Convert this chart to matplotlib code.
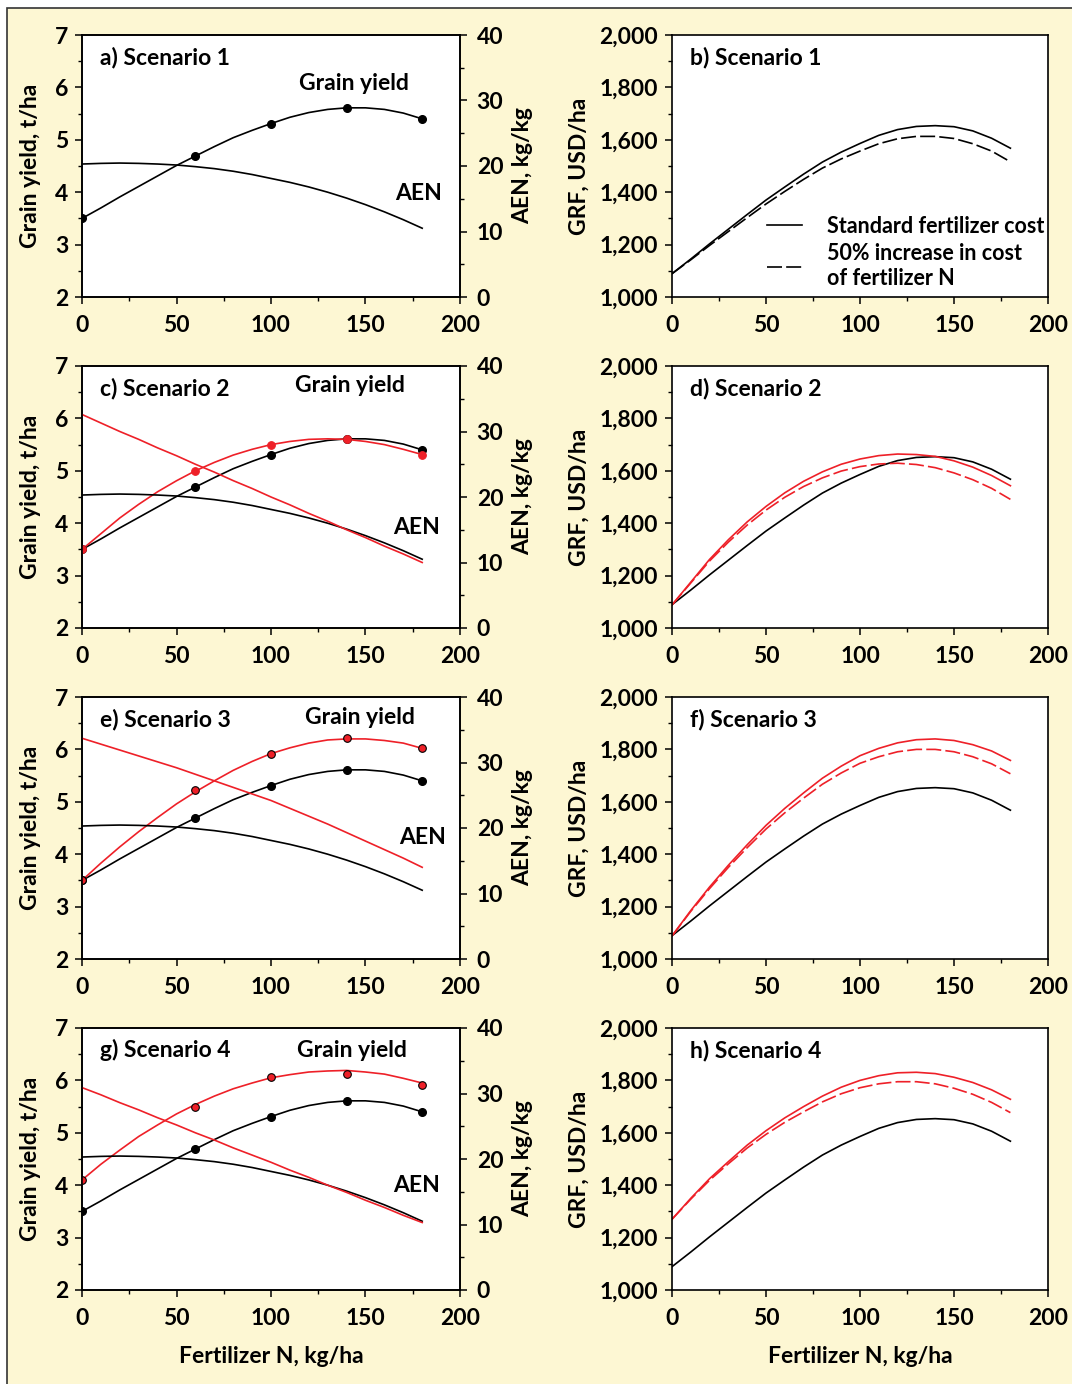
import matplotlib
matplotlib.use("Agg")
import matplotlib.pyplot as plt
from matplotlib.patches import Rectangle
from matplotlib.lines import Line2D
from matplotlib.ticker import MultipleLocator, StrMethodFormatter

# fertilizer N rates (kg/ha): measured points and fitted-curve grid
n_obs = [0, 60, 100, 140, 180]
n_fit = [0, 10, 20, 30, 40, 50, 60, 70, 80, 90, 100, 110, 120, 130, 140, 150, 160, 170, 180]

# scenario 1 (baseline, black in every panel)
yield_obs_s1 = [3.5, 4.7, 5.3, 5.6, 5.4]
yield_fit_s1 = [3.50, 3.70, 3.91, 4.11, 4.31, 4.51, 4.69, 4.87, 5.04, 5.18, 5.31, 5.43, 5.52, 5.58, 5.61, 5.61, 5.58, 5.51, 5.40]
aen_s1 = [20.3, 20.4, 20.45, 20.4, 20.3, 20.15, 19.9, 19.6, 19.2, 18.7, 18.1, 17.5, 16.8, 16.0, 15.1, 14.1, 13.0, 11.8, 10.5]
grf_s1 = [1089, 1145, 1203, 1259, 1315, 1370, 1420, 1469, 1515, 1553, 1586, 1617, 1639, 1651, 1654, 1650, 1634, 1606, 1568]
grf_s1_hi = [1089, 1142, 1197, 1250, 1303, 1355, 1403, 1449, 1492, 1527, 1557, 1585, 1604, 1613, 1613, 1605, 1585, 1557, 1516]

# scenario 2
yield_obs_s2 = [3.5, 5.0, 5.5, 5.6, 5.3]
yield_fit_s2 = [3.50, 3.80, 4.10, 4.36, 4.60, 4.81, 5.00, 5.16, 5.30, 5.41, 5.50, 5.56, 5.60, 5.61, 5.60, 5.56, 5.50, 5.41, 5.31]
aen_s2 = [32.6, 31.3, 30.0, 28.8, 27.5, 26.3, 25.0, 23.8, 22.5, 21.3, 20.0, 18.8, 17.5, 16.3, 15.0, 13.8, 12.5, 11.3, 10.0]
grf_s2 = [1088, 1175, 1262, 1337, 1405, 1464, 1516, 1560, 1596, 1625, 1645, 1658, 1664, 1662, 1655, 1638, 1614, 1582, 1543]
grf_s2_hi = [1088, 1172, 1256, 1328, 1393, 1450, 1499, 1540, 1573, 1599, 1616, 1626, 1629, 1624, 1612, 1592, 1566, 1533, 1491]

# scenario 3
yield_obs_s3 = [3.5, 5.22, 5.92, 6.22, 6.02]
yield_fit_s3 = [3.50, 3.83, 4.14, 4.43, 4.70, 4.96, 5.19, 5.40, 5.60, 5.77, 5.92, 6.03, 6.12, 6.18, 6.20, 6.20, 6.17, 6.12, 6.02]
aen_s3 = [33.7, 32.8, 31.9, 31.0, 30.1, 29.2, 28.2, 27.2, 26.2, 25.2, 24.2, 23.0, 21.8, 20.6, 19.3, 18.0, 16.7, 15.4, 14.0]
grf_s3 = [1088, 1185, 1275, 1358, 1436, 1510, 1575, 1634, 1690, 1736, 1776, 1804, 1825, 1837, 1840, 1834, 1818, 1794, 1758]
grf_s3_hi = [1088, 1182, 1269, 1350, 1425, 1496, 1558, 1614, 1667, 1710, 1747, 1772, 1791, 1800, 1800, 1791, 1772, 1745, 1707]

# scenario 4
yield_obs_s4 = [4.1, 5.5, 6.07, 6.12, 5.92]
yield_fit_s4 = [4.10, 4.40, 4.67, 4.93, 5.15, 5.36, 5.54, 5.70, 5.84, 5.95, 6.05, 6.11, 6.16, 6.18, 6.19, 6.16, 6.12, 6.04, 5.95]
aen_s4 = [30.9, 29.8, 28.6, 27.5, 26.3, 25.2, 24.0, 22.9, 21.7, 20.6, 19.5, 18.3, 17.2, 16.0, 14.9, 13.7, 12.6, 11.4, 10.3]
grf_s4 = [1270, 1350, 1425, 1490, 1553, 1608, 1657, 1700, 1740, 1774, 1800, 1818, 1829, 1831, 1826, 1812, 1792, 1764, 1728]
grf_s4_hi = [1270, 1347, 1419, 1482, 1542, 1594, 1640, 1680, 1718, 1749, 1772, 1787, 1795, 1795, 1787, 1770, 1747, 1716, 1677]

scenarios = [
    ("a) Scenario 1", "b) Scenario 1", None, None, None, None, None, None),
    ("c) Scenario 2", "d) Scenario 2", yield_obs_s2, yield_fit_s2, aen_s2, grf_s2, grf_s2_hi, "red"),
    ("e) Scenario 3", "f) Scenario 3", yield_obs_s3, yield_fit_s3, aen_s3, grf_s3, grf_s3_hi, "black"),
    ("g) Scenario 4", "h) Scenario 4", yield_obs_s4, yield_fit_s4, aen_s4, grf_s4, grf_s4_hi, "black"),
]
# label anchors (data units of the yield axis) per row
grain_pos = [(144, 6.08), (142, 6.62), (147, 6.6), (143, 6.58)]
aen_pos = [(178, 3.98), (177, 3.91), (180, 4.31), (177, 4.0)]

RED = "#ee2028"
CREAM = "#fdf7d3"
DASH = (0, (9, 2.5))

plt.rcParams["font.family"] = ["Lato", "DejaVu Sans"]
plt.rcParams["font.weight"] = "bold"
plt.rcParams["axes.labelweight"] = "bold"

W, H = 1072, 1384
fig = plt.figure(figsize=(W / 100, H / 100), dpi=100, facecolor="white")
fig.patches.append(Rectangle((7 / W, -0.01), 1.1, 1 - 8 / H + 0.01, transform=fig.transFigure,
                             facecolor=CREAM, edgecolor="#333333", linewidth=1.2, zorder=-10))

tick_fs = 16.5
lab_fs = 16.5


def style_ticks(ax):
    ax.tick_params(axis="both", which="major", direction="out", length=5, width=1.1,
                   labelsize=tick_fs, pad=5)
    ax.tick_params(axis="both", which="minor", direction="out", length=3, width=1.0)
    ax.tick_params(axis="x", which="major", pad=8)
    for s in ax.spines.values():
        s.set_linewidth(1.2)


def yield_panel(ax, row, label, obs, fit, aen, edge):
    ax.set_facecolor("white")
    ax.set_xlim(0, 200)
    ax.set_ylim(2, 7)
    ax.xaxis.set_major_locator(MultipleLocator(50))
    ax.xaxis.set_minor_locator(MultipleLocator(25))
    ax.yaxis.set_major_locator(MultipleLocator(1))
    ax.yaxis.set_minor_locator(MultipleLocator(0.5))
    style_ticks(ax)
    ax.set_ylabel("Grain yield, t/ha", fontsize=lab_fs, labelpad=10)
    ax2 = ax.twinx()
    ax2.set_ylim(0, 40)
    ax2.yaxis.set_major_locator(MultipleLocator(10))
    ax2.yaxis.set_minor_locator(MultipleLocator(5))
    style_ticks(ax2)
    ax2.tick_params(axis="y", which="major", pad=7)
    ax2.set_ylabel("AEN, kg/kg", fontsize=lab_fs, rotation=90, labelpad=6)

    ax.plot(n_fit, yield_fit_s1, color="black", lw=1.2, zorder=3)
    ax.plot(n_obs, yield_obs_s1, "o", color="black", ms=5.5, zorder=4)
    ax2.plot(n_fit, aen_s1, color="black", lw=1.2)
    if obs is not None:
        ax.plot(n_fit, fit, color=RED, lw=1.2, zorder=3)
        ax.plot(n_obs, obs, "o", color=RED, mec="black" if edge == "black" else RED,
                mew=0.8, ms=5.5, zorder=5)
        ax2.plot(n_fit, aen, color=RED, lw=1.2)

    ax.text(0.048, 0.915, label, transform=ax.transAxes, fontsize=lab_fs, va="center", ha="left")
    gx, gy = grain_pos[row]
    ax.text(gx, gy, "Grain yield", fontsize=lab_fs, ha="center", va="center")
    axx, axy = aen_pos[row]
    ax.text(axx, axy, "AEN", fontsize=lab_fs, ha="center", va="center")
    return ax2


def grf_panel(ax, label, grf, grf_hi):
    ax.set_facecolor("white")
    ax.set_xlim(0, 200)
    ax.set_ylim(1000, 2000)
    ax.xaxis.set_major_locator(MultipleLocator(50))
    ax.xaxis.set_minor_locator(MultipleLocator(25))
    ax.yaxis.set_major_locator(MultipleLocator(200))
    ax.yaxis.set_minor_locator(MultipleLocator(100))
    ax.yaxis.set_major_formatter(StrMethodFormatter("{x:,.0f}"))
    style_ticks(ax)
    ax.set_ylabel("GRF, USD/ha", fontsize=lab_fs, labelpad=7)
    ax.plot(n_fit, grf_s1, color="black", lw=1.2)
    if grf is None:
        ax.plot(n_fit, grf_s1_hi, color="black", lw=1.2, linestyle=DASH)
    else:
        ax.plot(n_fit, grf, color=RED, lw=1.2)
        ax.plot(n_fit, grf_hi, color=RED, lw=1.2, linestyle=DASH)
    ax.text(0.048, 0.915, label, transform=ax.transAxes, fontsize=lab_fs, va="center", ha="left")


bottoms = [1 - 297 / H, 1 - 628 / H, 1 - 959 / H, 1 - 1290 / H]
ph = 262 / H
for row, (la, lb, obs, fit, aen, grf, grf_hi, edge) in enumerate(scenarios):
    axl = fig.add_axes([82 / W, bottoms[row], 378 / W, ph])
    yield_panel(axl, row, la, obs, fit, aen, edge)
    axr = fig.add_axes([672 / W, bottoms[row], 376 / W, ph])
    grf_panel(axr, lb, grf, grf_hi)
    if row == 0:
        handles = [Line2D([], [], color="black", lw=1.2),
                   Line2D([], [], color="black", lw=1.2, linestyle=DASH)]
        axr.legend(handles, ["Standard fertilizer cost", "50% increase in cost\nof fertilizer N"],
                   loc="lower right", bbox_to_anchor=(1.02, -0.01), frameon=False,
                   fontsize=15.5, handlelength=1.6, handletextpad=1.2, labelspacing=0.3,
                   borderaxespad=0.1)
    if row == 3:
        axl.set_xlabel("Fertilizer N, kg/ha", fontsize=lab_fs, labelpad=12)
        axr.set_xlabel("Fertilizer N, kg/ha", fontsize=lab_fs, labelpad=12)

fig.savefig("out.png", dpi=100, facecolor="white")
